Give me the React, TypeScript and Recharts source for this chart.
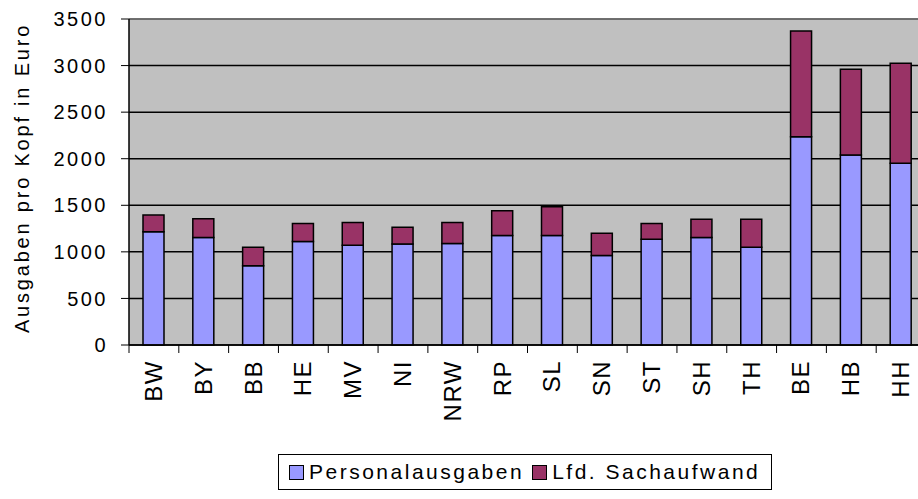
import { BarChart, Bar, XAxis, YAxis, CartesianGrid, ReferenceLine, Label } from "recharts";

const states = ["BW", "BY", "BB", "HE", "MV", "NI", "NRW", "RP", "SL", "SN", "ST", "SH", "TH", "BE", "HB", "HH"];
const personal = [1215, 1155, 850, 1110, 1070, 1085, 1090, 1175, 1175, 960, 1135, 1155, 1050, 2235, 2040, 1950];
const sachaufwand = [180, 200, 200, 195, 245, 180, 225, 265, 310, 240, 170, 195, 300, 1135, 920, 1075];
const yTicks = [0, 500, 1000, 1500, 2000, 2500, 3000, 3500];

const data = states.map((s, i) => ({ name: s, personal: personal[i], sach: sachaufwand[i] }));

const FONT = '"Liberation Sans", Arial, sans-serif';
const CHART_W = 927;
const CHART_H = 499;
const TOP = 19;
const BOTTOM = 345;
const LEFT = 129;
const RIGHT = 1;
const BAND = (CHART_W - LEFT - RIGHT) / states.length;

const BLUE = "#9999FF";
const PURPLE = "#993366";

function XTick(props: any) {
  const { x, index } = props;
  const left = x - BAND / 2;
  return (
    <g>
      <line x1={left} x2={left} y1={BOTTOM} y2={BOTTOM + 8} stroke="#000" />
      {index === states.length - 1 && (
        <line x1={left + BAND} x2={left + BAND} y1={BOTTOM} y2={BOTTOM + 8} stroke="#000" />
      )}
      <text
        x={x + 8}
        y={360}
        transform={`rotate(-90, ${x + 8}, 360)`}
        textAnchor="end"
        fontSize={24}
        letterSpacing={1.5}
        fontFamily={FONT}
        fill="#000"
      >
        {props.payload.value}
      </text>
    </g>
  );
}

function YTitle() {
  return (
    <text
      x={29}
      y={178}
      transform="rotate(-90, 29, 178)"
      textAnchor="middle"
      fontSize={20}
      letterSpacing={2.8}
      fontFamily={FONT}
      fill="#000"
    >
      Ausgaben pro Kopf in Euro
    </text>
  );
}

function LegendBox() {
  const sq = (color: string) => (
    <span
      style={{
        display: "inline-block",
        width: 13,
        height: 13,
        background: color,
        border: "1px solid #000",
        marginRight: 5,
      }}
    />
  );
  return (
    <div
      style={{
        position: "absolute",
        left: 278,
        top: 454,
        width: 494,
        height: 36,
        border: "1px solid #000",
        boxSizing: "border-box",
        display: "flex",
        alignItems: "center",
        paddingLeft: 10,
        fontFamily: FONT,
        fontSize: 21,
        letterSpacing: 2.5,
        color: "#000",
        background: "#fff",
        whiteSpace: "nowrap",
      }}
    >
      {sq(BLUE)}
      <span style={{ marginRight: 8 }}>Personalausgaben</span>
      {sq(PURPLE)}
      <span>Lfd. Sachaufwand</span>
    </div>
  );
}

export default function App() {
  return (
    <div style={{ position: "relative", width: 918, height: CHART_H, overflow: "hidden", background: "#fff" }}>
      <style>{`body{margin:0}`}</style>
      <BarChart
        width={CHART_W}
        height={CHART_H}
        data={data}
        margin={{ top: TOP, right: RIGHT, left: 0, bottom: 0 }}
        barSize={21}
      >
        <CartesianGrid vertical={false} stroke="#000" strokeWidth={1.5} fill="#C0C0C0" fillOpacity={1} />
        <ReferenceLine y={3500} stroke="#808080" strokeWidth={1.5} />
        <XAxis
          dataKey="name"
          height={CHART_H - BOTTOM}
          axisLine={{ stroke: "#000", strokeWidth: 1.5 }}
          tickLine={false}
          interval={0}
          tick={<XTick />}
        />
        <YAxis
          width={LEFT}
          domain={[0, 3500]}
          ticks={yTicks}
          interval={0}
          axisLine={{ stroke: "#000", strokeWidth: 1.5 }}
          tickLine={{ stroke: "#000" }}
          tickSize={8}
          tickMargin={13}
          tick={{ fontSize: 20, fontFamily: FONT, fill: "#000", letterSpacing: 2.5 }}
        >
          <Label content={<YTitle />} />
        </YAxis>
        <Bar dataKey="personal" stackId="a" fill={BLUE} stroke="#000" strokeWidth={1.5} isAnimationActive={false} />
        <Bar dataKey="sach" stackId="a" fill={PURPLE} stroke="#000" strokeWidth={1.5} isAnimationActive={false} />
      </BarChart>
      <LegendBox />
    </div>
  );
}
